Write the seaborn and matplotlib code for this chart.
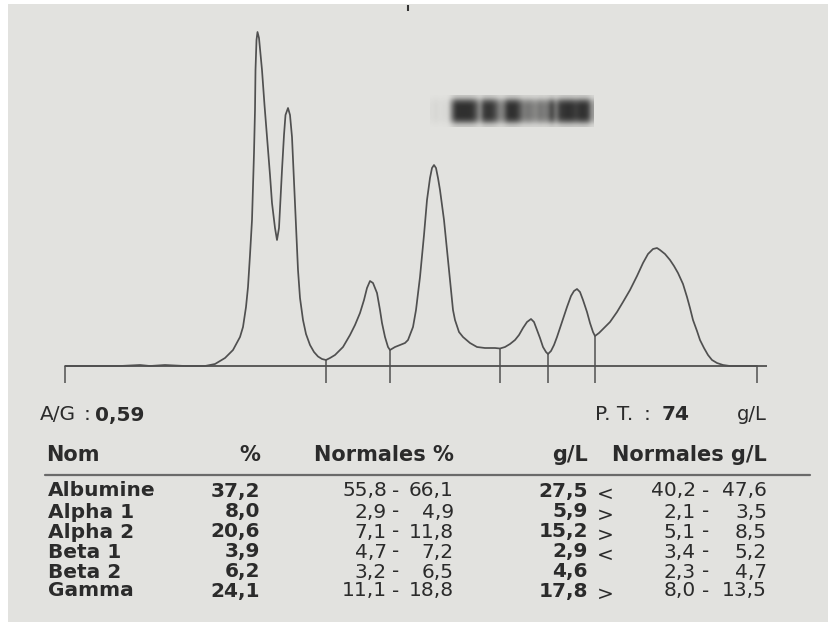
import numpy as np
import matplotlib
matplotlib.use("Agg")
import matplotlib.pyplot as plt
from matplotlib.lines import Line2D
from matplotlib.patches import Rectangle
from matplotlib.colors import LinearSegmentedColormap
import seaborn as sns

# ---------------- data ----------------
# densitometry trace: migration position vs absorbance (arbitrary units)
migration = [0, 55, 75, 85, 100, 120, 140, 150, 160, 168, 175, 178, 181, 183, 185, 187,
             188, 189, 190, 190.5, 191.5, 192.5, 194, 197, 199.5, 202, 205, 207, 210, 212,
             214, 217, 219, 220.5, 223, 225, 227, 230, 233, 235, 238, 241, 245, 249, 253,
             257, 261, 265, 270, 278, 285, 290, 295, 299, 302, 305, 308, 312, 315, 317,
             320, 323, 325, 330, 335, 340, 343, 348, 351, 355, 359, 362, 365, 367, 369,
             371, 373, 375, 379, 382, 385, 388, 390, 394, 398, 405, 412, 420, 430, 435,
             440, 445, 450, 454, 458, 462, 466, 469, 472, 475, 478, 481, 483, 486, 489,
             492, 497, 502, 506, 509, 512, 515, 518, 522, 525, 528, 530, 534, 538, 545,
             552, 558, 565, 572, 578, 583, 588, 592, 595, 600, 605, 609, 613, 618, 622,
             625, 628, 632, 635, 639, 643, 647, 652, 658, 665, 680, 692]
absorbance = [0, 0, 1, 0, 1, 0, 0, 2, 8, 16, 29, 39, 59, 79, 111, 146,
              181, 213, 256, 296, 326, 334, 328, 296, 261, 229, 191, 163, 138, 126,
              138, 196, 231, 251, 258, 251, 229, 163, 96, 68, 46, 32, 21, 14, 9.5,
              7, 6, 8, 11, 19, 31, 41, 53, 66, 78, 85, 83, 73, 56, 43,
              29, 19, 16, 19, 21, 23, 26, 39, 56, 89, 131, 166, 188, 198, 201,
              198, 188, 176, 146, 116, 86, 56, 46, 34, 29, 23, 19, 18, 18, 17.5,
              19, 22, 26, 31, 38, 44, 47, 44, 36, 28, 19, 14, 12, 15, 21,
              29, 44, 59, 70, 75, 77, 74, 66, 54, 43, 34, 30, 33, 37, 44,
              54, 64, 76, 90, 103, 112, 117, 118, 116, 112, 106, 100, 93, 82, 69,
              58, 46, 35, 26, 18, 11, 6, 3, 1, 0, 0, 0]
fraction_limits = [261, 325, 435, 483, 530]
scan_ends = [0, 692]

# gel strip densities, left to right (1 = clear, 0 = black)
gel_density = [0.97, 0.94, 0.97, 0.95, 0.96,
               0.50, 0.12, 0.10, 0.10, 0.10, 0.12, 0.30,
               0.60,
               0.18, 0.12, 0.15, 0.30,
               0.55, 0.45,
               0.12, 0.10, 0.12, 0.30,
               0.50, 0.45, 0.50, 0.55, 0.45, 0.50, 0.45,
               0.18,
               0.50,
               0.18, 0.12, 0.10, 0.12, 0.18, 0.12, 0.10, 0.18,
               0.65]

ag_ratio = "0,59"
total_protein = "74"
fractions = ["Albumine", "Alpha 1", "Alpha 2", "Beta 1", "Beta 2", "Gamma"]
percent = ["37,2", "8,0", "20,6", "3,9", "6,2", "24,1"]
percent_norm_low = ["55,8", "2,9", "7,1", "4,7", "3,2", "11,1"]
percent_norm_high = ["66,1", "4,9", "11,8", "7,2", "6,5", "18,8"]
conc = ["27,5", "5,9", "15,2", "2,9", "4,6", "17,8"]
flags = ["<", ">", ">", "<", "", ">"]
conc_norm_low = ["40,2", "2,1", "5,1", "3,4", "2,3", "8,0"]
conc_norm_high = ["47,6", "3,5", "8,5", "5,2", "4,7", "13,5"]

# ---------------- styling ----------------
sns.set_theme(style="white")
plt.rcParams["font.family"] = ["DejaVu Sans"]

W, H = 829, 632
PAPER = "#e2e2df"
INK = "#2b2b2b"
LINE = "#505050"

fig = plt.figure(figsize=(W / 100, H / 100), dpi=100)
fig.patch.set_facecolor("white")


def P(x, y):
    return x / W, 1 - y / H


# paper background
fig.add_artist(Rectangle(P(8, 622), (W - 8) / W, (622 - 4) / H,
                         transform=fig.transFigure, facecolor=PAPER,
                         edgecolor="none", zorder=0))

# ---------------- electrophoresis trace ----------------
ax = fig.add_axes([55 / W, 1 - 390 / H, 720 / W, 390 / H])
ax.set_facecolor("none")
sns.lineplot(x=migration, y=absorbance, ax=ax, color=LINE, lw=1.25,
             sort=False, estimator=None)
ax.hlines(0, 0, 702, color=LINE, lw=1.3)
ax.vlines(scan_ends, -17, 0, color=LINE, lw=1.1)
tops = np.interp(fraction_limits, migration, absorbance)
ax.vlines(fraction_limits, -17, tops, color=LINE, lw=1.1)

# gel strip image
dens = np.array(gel_density)
vprof = np.array([0.15, 0.75, 1.0, 1.0, 1.0, 1.0, 0.75, 0.15])
img = 1 - (1 - dens)[None, :] * vprof[:, None]
cmap = LinearSegmentedColormap.from_list("gel", ["#1c1c1c", PAPER])
ax.imshow(img, extent=(365, 529, 239, 271), aspect="auto",
          interpolation="bicubic", cmap=cmap, vmin=0, vmax=1, zorder=1)

# small mark at top
ax.vlines([343], 355, 361, color="#333333", lw=1.5)

ax.set_xlim(-10, 710)
ax.set_ylim(-24, 366)
ax.axis("off")

# ---------------- results table ----------------
FS = 14.5


def txt(x, y, s, ha="left", bold=False, size=FS):
    fig.text(*P(x, y), s, ha=ha, va="center", color=INK, fontsize=size,
             fontweight="bold" if bold else "normal")


txt(40, 415, "A/G", size=14.5)
txt(87, 415, ":", ha="center", size=14.5)
txt(95, 415, ag_ratio, bold=True)
txt(595, 415, "P. T.", size=14.5)
txt(647, 415, ":", ha="center", size=14.5)
txt(662, 415, total_protein, bold=True)
txt(767, 415, "g/L", ha="right", size=14)

hy = 455
txt(46, hy, "Nom", bold=True, size=15)
txt(260, hy, "%", ha="right", bold=True, size=15)
txt(454, hy, "Normales %", ha="right", bold=True, size=15)
txt(588, hy, "g/L", ha="right", bold=True, size=15)
txt(767, hy, "Normales g/L", ha="right", bold=True, size=15)

fig.add_artist(Line2D([45 / W, 810 / W], [1 - 475 / H] * 2, color="#6a6a6a",
                      lw=1.6, transform=fig.transFigure))

rows_y = [491, 512, 532, 552, 572, 591]
for i, y in enumerate(rows_y):
    txt(48, y, fractions[i], bold=True)
    txt(260, y, percent[i], ha="right", bold=True)
    txt(387, y, percent_norm_low[i], ha="right")
    txt(396, y, "-", ha="center")
    txt(454, y, percent_norm_high[i], ha="right")
    txt(588, y, conc[i], ha="right", bold=True)
    if flags[i]:
        txt(605, y + 3, flags[i], ha="center")
    txt(696, y, conc_norm_low[i], ha="right")
    txt(706, y, "-", ha="center")
    txt(767, y, conc_norm_high[i], ha="right")

fig.savefig("out.png", dpi=100, facecolor=fig.get_facecolor())
